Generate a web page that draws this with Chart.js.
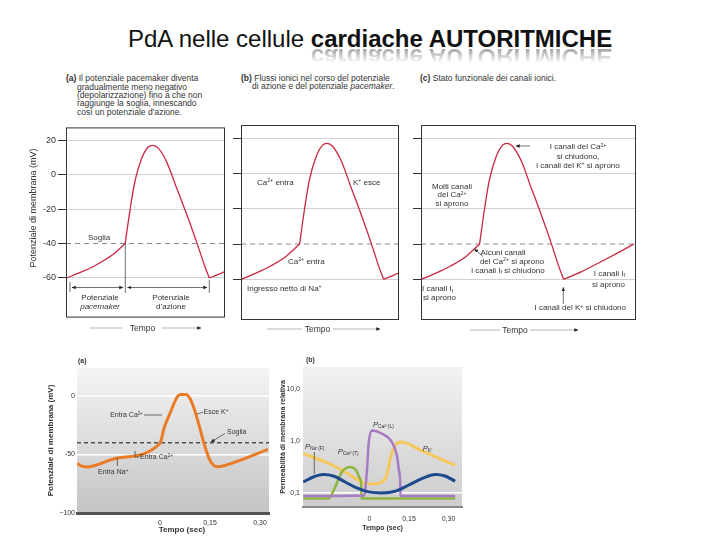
<!DOCTYPE html>
<html>
<head>
<meta charset="utf-8">
<script src="https://cdn.jsdelivr.net/npm/chart.js@4.4.1/dist/chart.umd.min.js"></script>
<style>
  body { margin: 0; width: 720px; height: 540px; position: relative; overflow: hidden; background: #fff;
         font-family: "Liberation Sans", Arial, Helvetica, sans-serif; color: #333; }
  canvas { position: absolute; }
  .lbl { position: absolute; white-space: nowrap; line-height: 1; }
  sup { font-size: 65%; vertical-align: 0; position: relative; top: -0.5em; }
  sub { font-size: 65%; vertical-align: 0; position: relative; top: 0.3em; }
  svg { position: absolute; left: 0; top: 0; }
</style>
</head>
<body>
<div id="title" class="lbl" style="left:128px;top:26.7px;font-size:24px;line-height:24px;color:#111">PdA nelle cellule <b>cardiache AUTORITMICHE</b></div>
<div id="refl" style="position:absolute;left:312px;top:48px;width:320px;height:15px;overflow:hidden;-webkit-mask-image:linear-gradient(rgba(0,0,0,.85),rgba(0,0,0,0));mask-image:linear-gradient(rgba(0,0,0,.85),rgba(0,0,0,0))">
  <div class="lbl" style="left:0;top:-20.3px;font-size:24px;line-height:24px;font-weight:bold;color:#8c8c8c;transform:scaleY(-1);transform-origin:0 20.3px">cardiache AUTORITMICHE</div>
</div>

<canvas id="apA" width="230" height="205" style="left:0;top:120px"></canvas>
<canvas id="apB" width="180" height="205" style="left:225px;top:120px"></canvas>
<canvas id="apC" width="235" height="205" style="left:405px;top:120px"></canvas>
<canvas id="vmA" width="245" height="195" style="left:30px;top:345px"></canvas>
<canvas id="permB" width="195" height="195" style="left:275px;top:345px"></canvas>

<script>
// pacemaker action potential (top row), time in arbitrary units from the start of the trace
const pacemakerTime =    [0, 15, 30, 45, 58.6];
const pacemakerVoltage = [-60, -56.5, -52.3, -47, -40];
const spikeTime =    [58.6, 63.3, 68.3, 75, 81.6, 86, 91.6, 100, 110, 120, 130, 138.3, 142.6];
const spikeVoltage = [-40, -21, -4, 9.3, 16, 17, 15.4, 7.4, -7.8, -23, -39.2, -53.5, -60];
const recoveryTime =    [142.6, 150, 160, 180, 200, 213];
const recoveryVoltage = [-60, -58.3, -55.8, -50, -44, -40];
const mvTicks = [20, 0, -20, -40, -60];
const threshold = -40;

// (a) bottom: membrane potential vs time (s)
const vmTime =    [-0.248, -0.235, -0.22, -0.128, 0, 0.012, 0.032, 0.052, 0.062, 0.077, 0.09, 0.102, 0.117, 0.132, 0.147, 0.16, 0.172, 0.192, 0.324];
const vmVoltage = [-57.5, -60, -60.6, -53, -40.4, -27.6, -13.4, -0.6, 1.4, 1.4, -2, -10.5, -24.8, -40.4, -53.2, -59, -60.4, -59.6, -45.6];
const vmTicks = [0, -50, -100];
const vmTickLabels = ['0', '-50', '\u2212100'];
const secTicks = [0, 0.15, 0.30];
const secTickLabels = ['0', '0,15', '0,30'];

// (b) bottom: relative membrane permeability (log)
const naTime = [-0.251, -0.213, -0.175, -0.137, -0.092, -0.048, -0.004, 0.047, 0.098, 0.148, 0.199, 0.25, 0.287, 0.325];
const naPerm = [0.163, 0.203, 0.226, 0.212, 0.163, 0.125, 0.105, 0.1, 0.108, 0.141, 0.189, 0.226, 0.212, 0.168];
const kTime = [-0.251, -0.168, -0.092, -0.023, 0.009, 0.047, 0.066, 0.079, 0.098, 0.12, 0.2, 0.325];
const kPerm = [0.573, 0.395, 0.253, 0.158, 0.149, 0.163, 0.219, 0.459, 0.827, 0.956, 0.645, 0.34];
const caTTime = [-0.251, -0.156, -0.13, -0.105, -0.073, -0.05, -0.036, -0.031, -0.0305, 0.325];
const caTPerm = [0.078, 0.078, 0.13, 0.253, 0.316, 0.27, 0.19, 0.14, 0.078, 0.078];
const caLTime = [-0.251, -0.02, -0.01, -0.003, 0.009, 0.047, 0.085, 0.104, 0.113, 0.117, 0.1175, 0.325];
const caLPerm = [0.088, 0.09, 0.25, 0.9, 1.6, 1.39, 0.956, 0.53, 0.253, 0.15, 0.088, 0.088];
const permTicks = [10, 1, 0.1];
const permTickLabels = ['10,0', '1,0', '0,1'];

Chart.defaults.font.family = '"Liberation Sans", Arial, Helvetica, sans-serif';
Chart.defaults.color = '#333';
Chart.defaults.animation = false;

const pts = (xs, ys) => xs.map((x, i) => ({ x, y: ys[i] }));
const fixTicks = vals => s => { s.ticks = vals.map(v => ({ value: v })); };

const boxPlugin = {
  id: 'box',
  afterDraw(c) {
    const { ctx, chartArea: a } = c;
    ctx.save();
    ctx.strokeStyle = '#333';
    ctx.lineWidth = 1;
    ctx.strokeRect(a.left + 0.5, a.top + 0.5, a.right - a.left - 1, a.bottom - a.top - 1);
    ctx.restore();
  }
};

const shadePlugin = {
  id: 'shade',
  beforeDraw(c, args, opts) {
    const { ctx, chartArea: a } = c;
    const g = ctx.createLinearGradient(0, a.top, 0, a.bottom);
    g.addColorStop(0, opts.top);
    g.addColorStop(1, opts.bottom);
    ctx.save();
    ctx.fillStyle = g;
    ctx.fillRect(a.left, a.top, a.right - a.left, a.bottom - a.top);
    ctx.restore();
  }
};

const apLine = (xs, ys) => ({ data: pts(xs, ys), borderColor: '#c9283e', borderWidth: 1.3, pointRadius: 0, cubicInterpolationMode: 'monotone' });

function apChart(id, o) {
  return new Chart(document.getElementById(id), {
    type: 'line',
    data: {
      datasets: [
        apLine(pacemakerTime, pacemakerVoltage),
        apLine(spikeTime, spikeVoltage),
        apLine(recoveryTime, recoveryVoltage),
        { data: pts([o.xMin, o.xMax], [threshold, threshold]), borderColor: '#8a8a8a', borderWidth: 1, borderDash: [5, 4], pointRadius: 0 }
      ]
    },
    options: {
      responsive: false, events: [],
      layout: { padding: { top: 5, bottom: 5, left: 0, right: o.padRight } },
      plugins: { legend: { display: false }, tooltip: { enabled: false } },
      scales: {
        x: { type: 'linear', display: false, min: o.xMin, max: o.xMax },
        y: {
          min: -83, max: 27.4,
          afterFit: s => { s.width = o.axisWidth; },
          afterBuildTicks: fixTicks(mvTicks),
          border: { display: false },
          grid: {
            color: c => (c.tick && c.tick.value === threshold) ? 'rgba(0,0,0,0)' : '#d0d0d0',
            tickColor: '#333', tickLength: 8
          },
          ticks: { display: o.labels, font: { size: 9 }, color: '#333', padding: 2, callback: v => String(v) }
        }
      }
    },
    plugins: [boxPlugin]
  });
}

apChart('apA', { xMin: -0.5, xMax: 158.3, axisWidth: 66, padRight: 5, labels: true });
apChart('apB', { xMin: 0, xMax: 158, axisWidth: 16, padRight: 6, labels: false });
apChart('apC', { xMin: 0, xMax: 215, axisWidth: 16, padRight: 4, labels: false });

new Chart(document.getElementById('vmA'), {
  type: 'line',
  data: {
    datasets: [
      { data: pts(vmTime, vmVoltage), borderColor: '#ea7a25', borderWidth: 3, pointRadius: 0, cubicInterpolationMode: 'monotone' },
      { data: pts([-0.249, 0.327], [threshold, threshold]), borderColor: '#111', borderWidth: 1, borderDash: [4, 3], pointRadius: 0 }
    ]
  },
  options: {
    responsive: false, events: [],
    layout: { padding: { top: 23, right: 6, left: 0, bottom: 0 } },
    plugins: { legend: { display: false }, tooltip: { enabled: false }, shade: { top: '#f4f4f4', bottom: '#c4c4c4' } },
    scales: {
      x: {
        type: 'linear', min: -0.249, max: 0.327,
        afterFit: s => { s.height = 27; },
        afterBuildTicks: fixTicks(secTicks),
        border: { display: true, color: '#555', width: 3 },
        grid: { display: false, drawTicks: false },
        ticks: { font: { size: 7 }, padding: 5.5, maxRotation: 0, autoSkip: false, callback: (v, i) => secTickLabels[i] }
      },
      y: {
        min: -100, max: 24,
        afterFit: s => { s.width = 47; },
        afterBuildTicks: fixTicks(vmTicks),
        border: { display: false },
        grid: { color: c => (c.tick && c.tick.value > -100) ? '#ffffff' : 'rgba(0,0,0,0)', lineWidth: 1.5, drawTicks: false },
        ticks: { font: { size: 7 }, padding: 2, callback: (v, i) => vmTickLabels[i] },
        title: { display: true, text: 'Potenziale di membrana (mV)', font: { size: 8, weight: 'bold' }, padding: { top: 16, bottom: 0 } }
      }
    }
  },
  plugins: [shadePlugin]
});

new Chart(document.getElementById('permB'), {
  type: 'line',
  data: {
    datasets: [
      { data: pts(naTime, naPerm), borderColor: '#1d4a8c', borderWidth: 3, pointRadius: 0, cubicInterpolationMode: 'monotone' },
      { data: pts(caLTime, caLPerm), borderColor: '#a57cc2', borderWidth: 2.5, pointRadius: 0, cubicInterpolationMode: 'monotone' },
      { data: pts(caTTime, caTPerm), borderColor: '#8db53f', borderWidth: 2.5, pointRadius: 0, cubicInterpolationMode: 'monotone' },
      { data: pts(kTime, kPerm), borderColor: '#f6c85c', borderWidth: 3, pointRadius: 0, cubicInterpolationMode: 'monotone' }
    ]
  },
  options: {
    responsive: false, events: [],
    layout: { padding: { top: 22, right: 8, left: 0, bottom: 0 } },
    plugins: { legend: { display: false }, tooltip: { enabled: false }, shade: { top: '#f2f2f2', bottom: '#cdcdcd' } },
    scales: {
      x: {
        type: 'linear', min: -0.252, max: 0.351,
        afterFit: s => { s.height = 33; },
        afterBuildTicks: fixTicks(secTicks),
        border: { display: true, color: '#8a8a8a', width: 2 },
        grid: { display: false, drawTicks: false },
        ticks: { font: { size: 7 }, padding: 7.5, maxRotation: 0, autoSkip: false, callback: (v, i) => secTickLabels[i] },
        title: { display: true, text: 'Tempo (sec)', font: { size: 7, weight: 'bold' }, padding: { top: 0, bottom: 8 } }
      },
      y: {
        type: 'logarithmic', min: 0.0538, max: 26.5,
        afterFit: s => { s.width = 28; },
        afterBuildTicks: fixTicks(permTicks),
        border: { display: false },
        grid: { color: c => (c.tick && c.tick.value === 0.1) ? '#ffffff' : 'rgba(0,0,0,0)', lineWidth: 1.5, drawTicks: false },
        ticks: { font: { size: 7 }, padding: 3, callback: (v, i) => permTickLabels[i] },
        title: { display: true, text: 'Permeabilità di membrana relativa', font: { size: 7, weight: 'bold' }, padding: { top: 4, bottom: 0 } }
      }
    }
  },
  plugins: [shadePlugin]
});

// text annotations
function txt(x, y, html, o = {}) {
  const d = document.createElement('div');
  d.className = 'lbl';
  d.innerHTML = html;
  const tx = o.align === 'center' ? '-50%' : o.align === 'right' ? '-100%' : '0';
  d.style.cssText = `left:${x}px;top:${y}px;font-size:${o.size || 8}px;transform:translate(${tx},-50%)${o.rot ? ' rotate(-90deg)' : ''};` + (o.css || '');
  document.body.appendChild(d);
}

txt(66, 78, '<b>(a)</b> Il potenziale pacemaker diventa', { size: 8.5 });
txt(77, 86.7, 'gradualmente meno negativo', { size: 8.5 });
txt(77, 95, '(depolarizzazione) fino a che non', { size: 8.5 });
txt(77, 103.3, 'raggiunge la soglia, innescando', { size: 8.5 });
txt(77, 111.7, 'così un potenziale d’azione.', { size: 8.5 });
txt(241, 77.5, '<b>(b)</b> Flussi ionici nel corso del potenziale', { size: 8.5 });
txt(252, 86, 'di azione e del potenziale <i>pacemaker</i>.', { size: 8.5 });
txt(420, 77.5, '<b>(c)</b> Stato funzionale dei canali ionici.', { size: 8.5 });

txt(33, 208, 'Potenziale di membrana (mV)', { size: 9, align: 'center', rot: true });
txt(88, 238, 'Soglia');
txt(100, 297.7, 'Potenziale', { align: 'center' });
txt(100, 307, '<i>pacemaker</i>', { align: 'center' });
txt(171, 297.7, 'Potenziale', { align: 'center' });
txt(171, 307, 'd’azione', { align: 'center' });
txt(142.5, 328, 'Tempo', { align: 'center', size: 8.5 });
txt(317.5, 329, 'Tempo', { align: 'center', size: 8.5 });
txt(515, 330, 'Tempo', { align: 'center', size: 8.5 });

txt(257, 183, 'Ca<sup>2+</sup> entra');
txt(353, 183, 'K<sup>+</sup> esce');
txt(288, 262, 'Ca<sup>2+</sup> entra');
txt(247, 289, 'Ingresso netto di Na<sup>+</sup>');

txt(578, 147.3, 'I canali del Ca<sup>2+</sup>', { align: 'center' });
txt(578, 156.7, 'si chiudono,', { align: 'center' });
txt(578, 166, 'i canali del K<sup>+</sup> si aprono', { align: 'center' });
txt(452, 186.7, 'Molti canali', { align: 'center' });
txt(452, 195.3, 'del Ca<sup>2+</sup>', { align: 'center' });
txt(452, 204, 'si aprono', { align: 'center' });
txt(503, 252.7, 'Alcuni canali', { align: 'center' });
txt(512, 261.7, 'del Ca<sup>2+</sup> si aprono', { align: 'center' });
txt(508, 270.7, 'i canali I<sub>f</sub> si chiudono', { align: 'center' });
txt(422, 289, 'I canali I<sub>f</sub>');
txt(423, 298, 'si aprono');
txt(625, 273.5, 'I canali I<sub>f</sub>', { align: 'right' });
txt(625, 285, 'si aprono', { align: 'right' });
txt(626, 308.3, 'I canali del K<sup>+</sup> si chiudono', { align: 'right' });

txt(78, 360, '<b>(a)</b>', { size: 7 });
txt(143, 415, 'Entra Ca<sup>2+</sup>', { size: 7, align: 'right' });
txt(203.5, 412, 'Esce K<sup>+</sup>', { size: 7 });
txt(227, 431, 'Soglia', { size: 7 });
txt(140, 457, 'Entra Ca<sup>2+</sup>', { size: 7 });
txt(98, 472, 'Entra Na<sup>+</sup>', { size: 7 });
txt(182, 530, '<b>Tempo (sec)</b>', { size: 8, align: 'center' });

txt(306, 359, '<b>(b)</b>', { size: 7 });
txt(305, 447, '<i>P</i><sub>Na⁺(F)</sub>', { size: 7.5 });
txt(337.7, 452, '<i>P</i><sub>Ca²⁺(T)</sub>', { size: 7.5 });
txt(373, 425, '<i>P</i><sub>Ca²⁺(L)</sub>', { size: 7.5 });
txt(422.7, 449, '<i>P</i><sub>K⁺</sub>', { size: 7.5 });

// reflection under the bold part of the title
const bold = document.querySelector('#title b');
document.getElementById('refl').style.left = bold.getBoundingClientRect().left + 'px';

// leader lines and arrows
const ov = `<svg width="720" height="540" viewBox="0 0 720 540">
<defs><marker id="ah" viewBox="0 0 10 10" refX="9" refY="5" markerWidth="6" markerHeight="6" orient="auto-start-reverse"><path d="M0,1 L10,5 L0,9 z" fill="#222"/></marker></defs>
<g stroke="#333" stroke-width="0.7" fill="none">
  <path d="M70,282 V292 M125.3,243 V293 M209.3,280 V293"/>
  <line x1="72" y1="287.5" x2="123" y2="287.5" marker-start="url(#ah)" marker-end="url(#ah)"/>
  <line x1="127.5" y1="287.5" x2="207" y2="287.5" marker-start="url(#ah)" marker-end="url(#ah)"/>
  <line x1="530" y1="146" x2="516" y2="146" marker-end="url(#ah)"/>
  <line x1="483" y1="256.5" x2="474.5" y2="249" marker-end="url(#ah)"/>
  <line x1="563.3" y1="304" x2="563.3" y2="287.5" marker-end="url(#ah)"/>
  <line x1="144" y1="415" x2="162" y2="415"/>
  <line x1="197" y1="414" x2="203" y2="412"/>
  <line x1="225" y1="433.5" x2="211" y2="442" marker-end="url(#ah)"/>
  <polyline points="135,451 135,457 139,457"/>
  <line x1="117.3" y1="458" x2="117.3" y2="466"/>
  <line x1="314.3" y1="452" x2="314.3" y2="474"/>
</g>
<g stroke="#999" stroke-width="0.7" fill="none">
  <line x1="90" y1="328" x2="123" y2="328"/>
  <line x1="162" y1="328" x2="201" y2="328" marker-end="url(#ah)"/>
  <line x1="267" y1="329" x2="302" y2="329"/>
  <line x1="333" y1="329" x2="380" y2="329" marker-end="url(#ah)"/>
  <line x1="470" y1="330" x2="500" y2="330"/>
  <line x1="530" y1="330" x2="578" y2="330" marker-end="url(#ah)"/>
</g>
</svg>`;
document.body.insertAdjacentHTML('beforeend', ov);
</script>
</body>
</html>
